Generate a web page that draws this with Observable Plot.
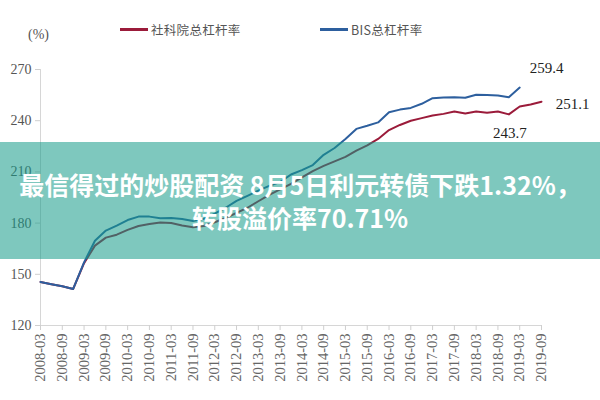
<!DOCTYPE html>
<html>
<head>
<meta charset="utf-8">
<script src="https://cdn.jsdelivr.net/npm/d3@7"></script>
<script src="https://cdn.jsdelivr.net/npm/@observablehq/plot@0.6"></script>
<style>
  html, body { margin: 0; padding: 0; background: #fff; width: 600px; height: 400px; overflow: hidden; }
  #wrap { position: relative; width: 600px; height: 400px; }
  #legend { position: relative; height: 45px; width: 600px; font-family: "Noto Sans CJK SC", sans-serif; color: #555; }
  #legend .unit { position: absolute; left: 28px; top: 27px; font-family: "Liberation Serif", serif; font-size: 14px; color: #555; }
  #legend .item { position: absolute; top: 20px; font-size: 12.5px; letter-spacing: 0.3px; display: flex; align-items: center; }
  #legend .sw { display: inline-block; width: 28px; height: 3px; margin-right: 3px; }
  #banner { position: absolute; left: 0; top: 142px; width: 600px; height: 117px; background: rgba(20,155,137,0.55);
            color: #fff; font-family: "Noto Sans CJK SC", sans-serif; font-weight: 700; font-size: 25px; line-height: 33px;
            text-align: center; box-sizing: border-box; padding-top: 26px; }
</style>
</head>
<body>
<div id="wrap">
  <div id="legend"></div>
  <div id="chart"></div>
  <div id="banner">最信得过的炒股配资 8月5日利元转债下跌1.32%，<br>转股溢价率70.71%</div>
</div>
<script>
const quarters = [
  "2008-03","2008-06","2008-09","2008-12",
  "2009-03","2009-06","2009-09","2009-12",
  "2010-03","2010-06","2010-09","2010-12",
  "2011-03","2011-06","2011-09","2011-12",
  "2012-03","2012-06","2012-09","2012-12",
  "2013-03","2013-06","2013-09","2013-12",
  "2014-03","2014-06","2014-09","2014-12",
  "2015-03","2015-06","2015-09","2015-12",
  "2016-03","2016-06","2016-09","2016-12",
  "2017-03","2017-06","2017-09","2017-12",
  "2018-03","2018-06","2018-09","2018-12",
  "2019-03","2019-06","2019-09"
];
const xTickLabels = [
  "2008-03","2008-09","2009-03","2009-09","2010-03","2010-09","2011-03","2011-09",
  "2012-03","2012-09","2013-03","2013-09","2014-03","2014-09","2015-03","2015-09",
  "2016-03","2016-09","2017-03","2017-09","2018-03","2018-09","2019-03","2019-09"
];
const yTicks = [120, 150, 180, 210, 240, 270];

const seriesNames = ["社科院总杠杆率", "BIS总杠杆率"];
const seriesColors = ["#9b1b3a", "#2d5f9e"];

// 社科院总杠杆率 (quarterly, 2008-03 .. 2019-09)
const cassValues = [
  145.5, 144.2, 143.0, 141.4,
  156.5, 166.8, 171.5, 173.2,
  176.0, 178.3, 179.5, 180.4,
  180.0, 178.6, 177.6, 178.3,
  180.5, 183.0, 186.0, 189.0,
  192.8, 196.5, 199.8, 203.0,
  206.8, 210.5, 213.5, 216.2,
  218.8, 222.5, 225.5, 229.3,
  234.5, 237.5, 240.0, 241.5,
  243.0, 244.0, 245.4, 244.2,
  245.4, 244.6, 245.4, 243.7,
  248.3, 249.5, 251.1
];
// BIS总杠杆率 (quarterly, 2008-03 .. 2019-03)
const bisValues = [
  145.5, 144.2, 143.0, 141.4,
  157.0, 169.7, 175.6, 178.5,
  181.8, 183.8, 183.8, 182.8,
  183.0, 182.4, 181.2, 182.5,
  185.5, 189.0, 193.0, 196.0,
  199.0, 201.8, 204.0, 208.5,
  211.0, 214.0, 220.0, 224.0,
  229.3, 235.2, 237.0, 239.0,
  245.0, 246.5, 247.5, 249.9,
  253.2, 253.6, 253.8, 253.4,
  255.2, 255.0, 254.8, 253.8,
  259.4
];

const annotQuarters = ["2019-03", "2019-09", "2018-12"];
const annotValues = [259.4, 251.1, 243.7];

// Legend
const legend = document.getElementById("legend");
legend.innerHTML = `<span class="unit">(%)</span>` + seriesNames.map((n, i) =>
  `<span class="item" style="left:${i === 0 ? 120 : 320}px"><span class="sw" style="background:${seriesColors[i]}"></span>${n}</span>`
).join("");

const cass = quarters.map((q, i) => ({q, v: cassValues[i]}));
const bis = bisValues.map((v, i) => ({q: quarters[i], v}));
const annots = annotQuarters.map((q, i) => ({q, v: annotValues[i], t: annotValues[i].toFixed(1)}));

const chart = Plot.plot({
  width: 600,
  height: 355,
  marginTop: 24,
  marginBottom: 75,
  marginLeft: 40,
  marginRight: 59,
  style: {fontFamily: "Liberation Serif, serif", fontSize: "14px", color: "#555", background: "transparent"},
  x: {type: "point", domain: quarters, padding: 0},
  y: {domain: [120, 270]},
  marks: [
    Plot.ruleY([120], {stroke: "#d6d6d6"}),
    Plot.ruleX([quarters[0]], {stroke: "#d6d6d6"}),
    Plot.axisY({ticks: yTicks, tickSize: 5, tickPadding: 4, stroke: "#cfcfcf", fill: "#555", fontSize: 14, label: null}),
    Plot.axisX({ticks: xTickLabels, tickSize: 5, tickPadding: 3, tickRotate: -90, stroke: "#cfcfcf", fill: "#666", fontSize: 14.5, label: null}),
    Plot.line(cass, {x: "q", y: "v", stroke: seriesColors[0], strokeWidth: 2}),
    Plot.line(bis, {x: "q", y: "v", stroke: seriesColors[1], strokeWidth: 2}),
    Plot.text([annots[0]], {x: "q", y: "v", text: "t", dx: 27, dy: -19, fontSize: 15, fill: "#222"}),
    Plot.text([annots[1]], {x: "q", y: "v", text: "t", dx: 31, dy: 2, fontSize: 15, fill: "#222"}),
    Plot.text([annots[2]], {x: "q", y: "v", text: "t", dx: 1, dy: 19, fontSize: 15, fill: "#222"})
  ]
});
document.getElementById("chart").appendChild(chart);
</script>
</body>
</html>
